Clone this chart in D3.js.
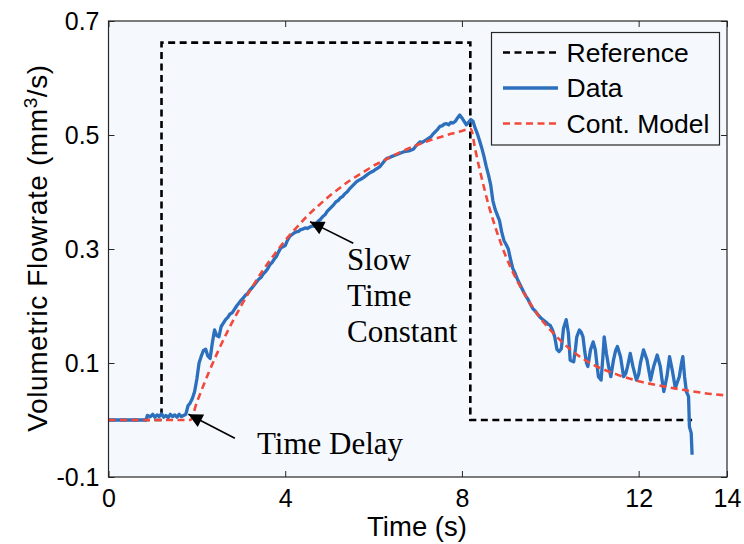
<!DOCTYPE html>
<html>
<head>
<meta charset="utf-8">
<script src="https://cdn.jsdelivr.net/npm/d3@7"></script>
<style>
  html, body { margin: 0; padding: 0; background: #ffffff; }
  svg { display: block; }
</style>
</head>
<body>
<svg id="chart" width="744" height="544"></svg>
<script>
// Axis settings
const xDomain = [0, 14];
const yDomain = [-0.1, 0.7];
const xTicks = [0, 4, 8, 12, 14];
const xTickLabels = ["0", "4", "8", "12", "14"];
const yTicks = [-0.1, 0.1, 0.3, 0.5, 0.7];
const yTickLabels = ["-0.1", "0.1", "0.3", "0.5", "0.7"];

// Reference input (step), [time s, flow mm^3/s]
const referenceSeries = [
  [0, 0], [1.2, 0], [1.2, 0.662], [8.19, 0.662], [8.19, 0], [13.21, 0]
];

// Measured flowrate, [time s, flow mm^3/s]
const dataSeries = [
  [0,0],[0.85,0],[0.88,0.008],[0.95,0.006],[1.0,0.01],[1.05,0.005],[1.1,0.009],[1.15,0.006],
  [1.2,0.011],[1.25,0.005],[1.3,0.008],[1.35,0.004],[1.4,0.01],[1.45,0.006],[1.5,0.009],
  [1.55,0.005],[1.6,0.01],[1.65,0.006],[1.7,0.008],[1.75,0.01],[1.8,0.025],[1.85,0.03],
  [1.9,0.038],[1.95,0.05],[2.0,0.072],[2.05,0.1],[2.1,0.112],[2.15,0.122],[2.2,0.124],
  [2.25,0.112],[2.3,0.108],[2.35,0.135],[2.4,0.158],[2.45,0.148],[2.5,0.146],[2.55,0.164],
  [2.6,0.17],[2.65,0.176],[2.7,0.18],[2.75,0.186],[2.8,0.188],[2.85,0.194],[2.9,0.2],
  [2.95,0.205],[3.0,0.21],[3.05,0.214],[3.1,0.219],[3.15,0.222],[3.2,0.228],[3.25,0.232],
  [3.3,0.237],[3.35,0.242],[3.4,0.247],[3.45,0.25],[3.5,0.256],[3.55,0.26],[3.6,0.265],
  [3.65,0.272],[3.7,0.276],[3.75,0.282],[3.8,0.287],[3.85,0.295],[3.9,0.302],[3.95,0.304],
  [4.0,0.306],[4.05,0.315],[4.1,0.322],[4.15,0.325],[4.2,0.328],[4.25,0.33],[4.3,0.331],
  [4.35,0.334],[4.4,0.335],[4.45,0.337],[4.5,0.336],[4.55,0.338],[4.6,0.34],[4.65,0.34],
  [4.7,0.344],[4.75,0.349],[4.8,0.352],[4.85,0.357],[4.9,0.36],[4.95,0.366],[5.0,0.37],
  [5.05,0.374],[5.1,0.378],[5.15,0.383],[5.2,0.385],[5.25,0.39],[5.3,0.392],[5.35,0.397],
  [5.4,0.4],[5.45,0.405],[5.5,0.409],[5.55,0.413],[5.6,0.417],[5.65,0.42],[5.7,0.422],
  [5.75,0.424],[5.8,0.427],[5.85,0.43],[5.9,0.433],[5.95,0.435],[6.0,0.437],[6.05,0.44],
  [6.1,0.442],[6.15,0.445],[6.2,0.45],[6.25,0.455],[6.3,0.459],[6.35,0.46],[6.4,0.462],
  [6.5,0.465],[6.6,0.468],[6.7,0.471],[6.8,0.472],[6.9,0.475],[6.95,0.48],[7.0,0.484],
  [7.05,0.488],[7.1,0.487],[7.2,0.492],[7.3,0.497],[7.35,0.502],[7.4,0.506],[7.45,0.51],
  [7.5,0.515],[7.55,0.516],[7.6,0.519],[7.65,0.52],[7.7,0.518],[7.75,0.522],[7.8,0.521],
  [7.85,0.524],[7.9,0.53],[7.95,0.535],[8.0,0.53],[8.05,0.524],[8.1,0.518],[8.15,0.522],
  [8.2,0.527],[8.25,0.524],[8.3,0.512],[8.35,0.502],[8.4,0.49],[8.45,0.477],[8.5,0.462],
  [8.55,0.445],[8.6,0.43],[8.65,0.413],[8.7,0.385],[8.75,0.37],[8.8,0.36],[8.85,0.35],
  [8.9,0.33],[8.95,0.315],[9.0,0.308],[9.05,0.3],[9.1,0.282],[9.15,0.266],[9.2,0.258],
  [9.25,0.248],[9.3,0.24],[9.35,0.232],[9.4,0.224],[9.45,0.217],[9.5,0.211],[9.55,0.203],
  [9.6,0.196],[9.65,0.192],[9.7,0.187],[9.75,0.182],[9.8,0.178],[9.85,0.175],[9.9,0.172],
  [9.95,0.168],[10.0,0.166],[10.05,0.158],[10.1,0.146],[10.15,0.124],[10.2,0.12],
  [10.25,0.125],[10.3,0.161],[10.36,0.176],[10.41,0.152],[10.45,0.105],[10.53,0.102],
  [10.57,0.125],[10.6,0.146],[10.66,0.158],[10.7,0.154],[10.74,0.146],[10.78,0.12],
  [10.82,0.1],[10.85,0.094],[10.91,0.123],[10.97,0.137],[11.02,0.123],[11.06,0.095],
  [11.09,0.076],[11.15,0.07],[11.19,0.11],[11.22,0.146],[11.27,0.117],[11.32,0.094],
  [11.37,0.076],[11.43,0.105],[11.48,0.122],[11.52,0.129],[11.59,0.111],[11.66,0.076],
  [11.71,0.082],[11.75,0.094],[11.81,0.117],[11.87,0.094],[11.95,0.07],[12.0,0.08],
  [12.04,0.1],[12.11,0.123],[12.19,0.105],[12.27,0.07],[12.34,0.094],[12.42,0.114],
  [12.49,0.094],[12.53,0.07],[12.57,0.05],[12.64,0.076],[12.7,0.111],[12.76,0.088],
  [12.83,0.056],[12.92,0.076],[12.97,0.1],[13.0,0.111],[13.04,0.076],[13.08,0.05],
  [13.13,0.041],[13.15,-0.012],[13.19,-0.023],[13.21,-0.061]
];

// Controller model response, [time s, flow mm^3/s]
const modelSeries = [
  [0,0],[1.85,0],[2.0,0.031],[2.25,0.08],[2.5,0.124],[2.75,0.164],[3.0,0.2],[3.25,0.233],
  [3.5,0.263],[3.75,0.29],[4.0,0.315],[4.25,0.337],[4.5,0.358],[4.75,0.376],[5.0,0.393],
  [5.25,0.408],[5.5,0.422],[5.75,0.434],[6.0,0.446],[6.25,0.456],[6.5,0.466],[6.75,0.475],
  [7.0,0.483],[7.25,0.49],[7.5,0.496],[7.75,0.502],[8.0,0.507],[8.2,0.511],
  [8.3,0.475],[8.4,0.44],[8.5,0.408],[8.6,0.378],[8.7,0.352],[8.8,0.328],[8.9,0.306],
  [9.0,0.286],[9.2,0.252],[9.4,0.223],[9.6,0.198],[9.8,0.176],[10.0,0.158],[10.25,0.138],
  [10.5,0.121],[10.75,0.107],[11.0,0.096],[11.5,0.08],[12.0,0.068],[12.5,0.06],
  [13.0,0.053],[13.5,0.047],[14.0,0.043]
];

const legendLabels = ["Reference", "Data", "Cont. Model"];

// Annotations in data units: text lines, text anchor, arrow tail and tip
const annotations = [
  { lines: ["Time Delay"], at: [3.36, -0.06], tail: [2.86, -0.032], tip: [1.81, 0.01] },
  { lines: ["Slow", "Time", "Constant"], at: [5.4, 0.263], tail: [5.54, 0.31], tip: [4.56, 0.348] }
];

// ---- layout & style ----
const W = 744, H = 544;
const plot = { left: 108.5, right: 727, top: 21, bottom: 477 };
const sans = "'Liberation Sans', Arial, Helvetica, sans-serif";
const serif = "'Liberation Serif', 'Times New Roman', Times, serif";
const colors = { ref: "#000000", data: "#2b6fbd", model: "#f2493a", axis: "#262626", bg: "#f5f9fe" };

const svg = d3.select("#chart");

const x = d3.scaleLinear().domain(xDomain).range([plot.left, plot.right]);
const y = d3.scaleLinear().domain(yDomain).range([plot.bottom, plot.top]);

// Plot background
svg.append("rect")
  .attr("x", plot.left).attr("y", plot.top)
  .attr("width", plot.right - plot.left).attr("height", plot.bottom - plot.top)
  .attr("fill", colors.bg);

svg.append("clipPath").attr("id", "plotClip")
  .append("rect")
  .attr("x", plot.left).attr("y", plot.top)
  .attr("width", plot.right - plot.left).attr("height", plot.bottom - plot.top);

const line = d3.line().x(d => x(d[0])).y(d => y(d[1]));
const marks = svg.append("g").attr("clip-path", "url(#plotClip)");

marks.append("path").datum(referenceSeries)
  .attr("d", line).attr("fill", "none")
  .attr("stroke", colors.ref).attr("stroke-width", 2.6)
  .attr("stroke-dasharray", "7,4.5");

marks.append("path").datum(dataSeries)
  .attr("d", line).attr("fill", "none")
  .attr("stroke", colors.data).attr("stroke-width", 3.3)
  .attr("stroke-linejoin", "round");

marks.append("path").datum(modelSeries)
  .attr("d", line.curve(d3.curveMonotoneX)).attr("fill", "none")
  .attr("stroke", colors.model).attr("stroke-width", 2.6)
  .attr("stroke-dasharray", "7,4.5");

// Axes (ticks inside, box on all sides)
const tickLen = 6;
const axisStyle = g => {
  g.select(".domain").remove();
  g.selectAll(".tick line").attr("stroke", colors.axis).attr("stroke-width", 1);
  g.selectAll(".tick text").attr("fill", "#000").style("font-family", sans).style("font-size", "25px");
};

svg.append("g").attr("transform", `translate(0,${plot.bottom})`)
  .call(d3.axisBottom(x).tickValues(xTicks).tickSize(-tickLen).tickPadding(12)
    .tickFormat((d, i) => xTickLabels[i]))
  .call(axisStyle);

svg.append("g").attr("transform", `translate(0,${plot.top})`)
  .call(d3.axisTop(x).tickValues(xTicks).tickSize(-tickLen).tickFormat(""))
  .call(axisStyle);

svg.append("g").attr("transform", `translate(${plot.left},0)`)
  .call(d3.axisLeft(y).tickValues(yTicks).tickSize(-tickLen).tickPadding(9)
    .tickFormat((d, i) => yTickLabels[i]))
  .call(axisStyle);

svg.append("g").attr("transform", `translate(${plot.right},0)`)
  .call(d3.axisRight(y).tickValues(yTicks).tickSize(-tickLen).tickFormat(""))
  .call(axisStyle);

svg.append("rect")
  .attr("x", plot.left).attr("y", plot.top)
  .attr("width", plot.right - plot.left).attr("height", plot.bottom - plot.top)
  .attr("fill", "none").attr("stroke", colors.axis).attr("stroke-width", 1.2);

// Axis titles
svg.append("text")
  .attr("x", 417).attr("y", 536)
  .attr("text-anchor", "middle")
  .style("font-family", sans).style("font-size", "27.5px")
  .text("Time (s)");

const yTitle = svg.append("text")
  .attr("transform", `translate(47,248) rotate(-90)`)
  .attr("text-anchor", "middle")
  .style("font-family", sans).style("font-size", "28px")
  .style("letter-spacing", "0.6px");
yTitle.append("tspan").text("Volumetric Flowrate (mm");
yTitle.append("tspan").attr("dy", -10).style("font-size", "19px").text("3");
yTitle.append("tspan").attr("dy", 10).text("/s)");

// Legend
const legend = svg.append("g");
legend.append("rect")
  .attr("x", 491.5).attr("y", 32.5).attr("width", 228).attr("height", 112.5)
  .attr("fill", colors.bg).attr("stroke", colors.axis).attr("stroke-width", 1.2);
const legendStyles = [
  { stroke: colors.ref, dash: "7,4.5" },
  { stroke: colors.data, dash: null },
  { stroke: colors.model, dash: "7,4.5" }
];
legendLabels.forEach((label, i) => {
  const cy = 52.5 + i * 35.5;
  legend.append("line")
    .attr("x1", 503).attr("x2", 558).attr("y1", cy).attr("y2", cy)
    .attr("stroke", legendStyles[i].stroke)
    .attr("stroke-width", i === 1 ? 3.3 : 2.6)
    .attr("stroke-dasharray", legendStyles[i].dash);
  legend.append("text")
    .attr("x", 566.5).attr("y", cy + 9)
    .style("font-family", sans).style("font-size", "26.5px")
    .text(label);
});

// Annotations with arrows
const defs = svg.append("defs");
defs.append("marker")
  .attr("id", "arrowHead").attr("viewBox", "0 0 10 10")
  .attr("refX", 10).attr("refY", 5)
  .attr("markerUnits", "userSpaceOnUse")
  .attr("markerWidth", 17).attr("markerHeight", 14)
  .attr("orient", "auto")
  .append("path").attr("d", "M0,0 L10,5 L0,10 Z").attr("fill", "#000");

annotations.forEach(a => {
  svg.append("line")
    .attr("x1", x(a.tail[0])).attr("y1", y(a.tail[1]))
    .attr("x2", x(a.tip[0])).attr("y2", y(a.tip[1]))
    .attr("stroke", "#000").attr("stroke-width", 1.6)
    .attr("marker-end", "url(#arrowHead)");
  const t = svg.append("text")
    .attr("x", x(a.at[0])).attr("y", y(a.at[1]))
    .style("font-family", serif).style("font-size", "31px");
  a.lines.forEach((ln, i) => {
    t.append("tspan").attr("x", x(a.at[0])).attr("dy", i === 0 ? 0 : 35.8).text(ln);
  });
});
</script>
</body>
</html>
